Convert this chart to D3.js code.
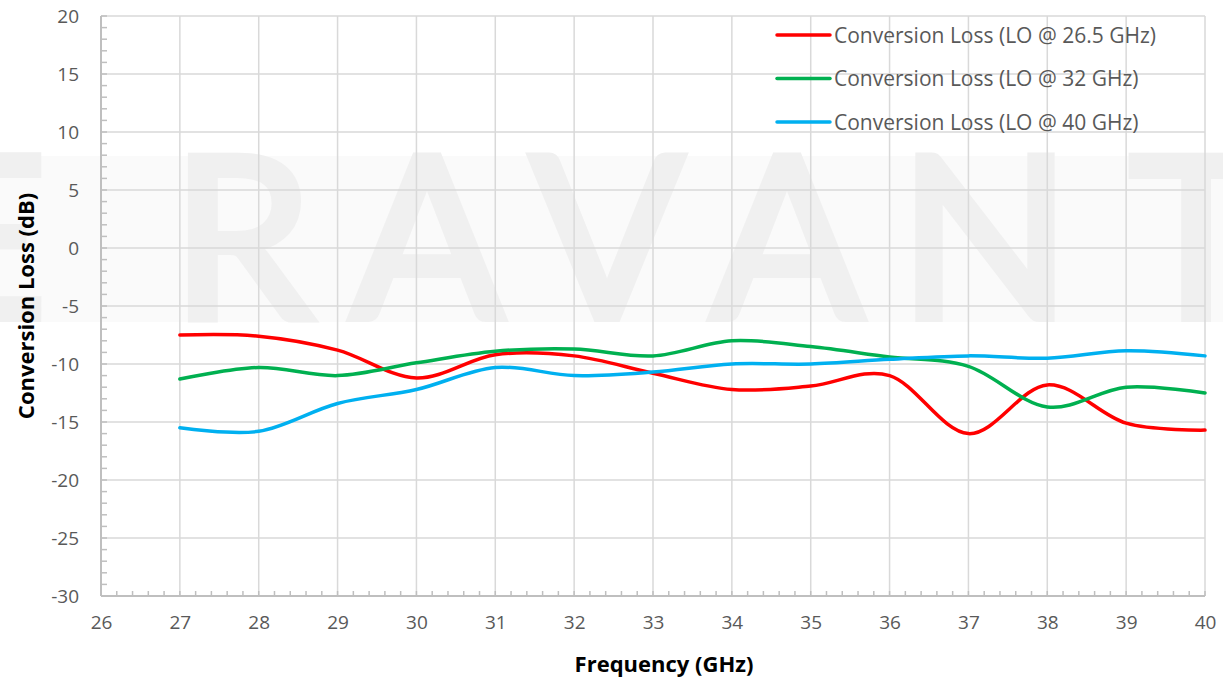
<!DOCTYPE html>
<html>
<head>
<meta charset="utf-8">
<script src="https://cdn.jsdelivr.net/npm/d3@7"></script>
<style>
  body { margin: 0; background: #fff; }
  svg { display: block; font-family: "Open Sans", sans-serif; }
</style>
</head>
<body>
<div id="canvas"></div>
<script>
// data
var freqs = [27, 28, 29, 30, 31, 32, 33, 34, 35, 36, 37, 38, 39, 40];
var lo265 = [-7.5, -7.6, -8.8, -11.2, -9.2, -9.3, -10.8, -12.2, -11.9, -11.0, -16.0, -11.8, -15.1, -15.7];
var lo32 = [-11.3, -10.3, -11.0, -9.9, -8.9, -8.7, -9.3, -8.0, -8.5, -9.4, -10.2, -13.7, -12.0, -12.5];
var lo40 = [-15.5, -15.8, -13.4, -12.2, -10.3, -11.0, -10.7, -10.0, -10.0, -9.6, -9.3, -9.5, -8.85, -9.3];
var seriesNames = ["Conversion Loss (LO @ 26.5 GHz)", "Conversion Loss (LO @ 32 GHz)", "Conversion Loss (LO @ 40 GHz)"];
var seriesColors = ["#ff0000", "#00b050", "#00b0f0"];
var xTicks = d3.range(26, 41, 1);
var yTicks = [-30, -25, -20, -15, -10, -5, 0, 5, 10, 15, 20];
var watermark = ["E", "R", "A", "V", "A", "N", "T"];

var W = 1223, H = 681;
var margin = {left: 101, right: 18, top: 16, bottom: 85};
var width = W - margin.left - margin.right;
var height = H - margin.top - margin.bottom;

var svg = d3.select("#canvas").append("svg")
  .attr("width", W)
  .attr("height", H);

// watermark band + letters
svg.append("rect")
  .attr("x", 0).attr("y", 156)
  .attr("width", W).attr("height", 166)
  .attr("fill", "#fafafa");
var wmX = [-18, 242, 427, 607, 787, 985, 1196];
svg.selectAll("text.wm").data(watermark).enter()
  .append("text")
  .attr("class", "wm")
  .attr("x", (d, i) => wmX[i])
  .attr("y", 318)
  .attr("text-anchor", "middle")
  .attr("font-family", "Lato, sans-serif")
  .attr("font-size", "226px")
  .attr("fill", "#f0f0f0")
  .attr("stroke", "#f0f0f0")
  .attr("stroke-width", 8)
  .attr("stroke-linejoin", "miter")
  .text((d) => d);

var g = svg.append("g")
  .attr("transform", "translate(" + margin.left + "," + margin.top + ")");

var x = d3.scaleLinear().domain([26, 40]).range([0, width]);
var y = d3.scaleLinear().domain([-30, 20]).range([height, 0]);

// gridlines
g.selectAll("line.vgrid").data(xTicks.slice(1)).enter()
  .append("line")
  .attr("x1", (d) => x(d)).attr("x2", (d) => x(d))
  .attr("y1", 0).attr("y2", height)
  .attr("stroke", "#d9d9d9").attr("stroke-width", 1.5);
g.selectAll("line.hgrid").data(yTicks.slice(1)).enter()
  .append("line")
  .attr("x1", 0).attr("x2", width)
  .attr("y1", (d) => y(d)).attr("y2", (d) => y(d))
  .attr("stroke", "#d9d9d9").attr("stroke-width", 1.5);

// minor ticks
g.selectAll("line.ymin").data(d3.range(-30, 21, 1)).enter()
  .append("line")
  .attr("x1", 0).attr("x2", 6)
  .attr("y1", (d) => y(d)).attr("y2", (d) => y(d))
  .attr("stroke", "#bfbfbf").attr("stroke-width", 1.5);
g.selectAll("line.xmin").data(d3.range(26, 40.01, 0.2)).enter()
  .append("line")
  .attr("x1", (d) => x(d)).attr("x2", (d) => x(d))
  .attr("y1", height).attr("y2", height - 5)
  .attr("stroke", "#bfbfbf").attr("stroke-width", 1.5);

// axis lines
g.append("line").attr("x1", 0).attr("x2", 0).attr("y1", 0).attr("y2", height)
  .attr("stroke", "#bfbfbf").attr("stroke-width", 2);
g.append("line").attr("x1", 0).attr("x2", width).attr("y1", height).attr("y2", height)
  .attr("stroke", "#bfbfbf").attr("stroke-width", 2);

var leftAxis = d3.axisLeft(y).tickValues(yTicks).tickSize(0).tickPadding(22)
  .tickFormat((d) => String(d));
var yAx = g.append("g").attr("class", "left axis").call(leftAxis);
yAx.select(".domain").remove();
yAx.selectAll("text").attr("font-size", "19px").attr("fill", "#595959")
  .attr("font-family", "Open Sans, sans-serif");

var bottomAxis = d3.axisBottom(x).tickValues(xTicks).tickSize(0).tickPadding(20)
  .tickFormat((d) => String(d));
var xAx = g.append("g").attr("class", "x axis")
  .attr("transform", "translate(0," + height + ")").call(bottomAxis);
xAx.select(".domain").remove();
xAx.selectAll("text").attr("font-size", "19px").attr("fill", "#595959")
  .attr("font-family", "Open Sans, sans-serif");

// lines
var series = [lo265, lo32, lo40];
var line = d3.line()
  .x((d, i) => x(freqs[i]))
  .y((d) => y(d))
  .curve(d3.curveCardinal.tension(0));
series.forEach((s, k) => {
  g.append("path")
    .datum(s)
    .attr("d", line)
    .attr("fill", "none")
    .attr("stroke", seriesColors[k])
    .attr("stroke-width", 3.5)
    .attr("stroke-linecap", "round");
});

// legend
var legend = g.append("g").attr("transform", "translate(676,19)");
seriesNames.forEach((n, k) => {
  var row = legend.append("g").attr("transform", "translate(0," + (k * 43.5) + ")");
  row.append("line").attr("x1", 0).attr("x2", 53).attr("y1", 0).attr("y2", 0)
    .attr("stroke", seriesColors[k]).attr("stroke-width", 3.5).attr("stroke-linecap", "round");
  row.append("text").attr("x", 57).attr("y", 7.5)
    .attr("font-size", "21px").attr("fill", "#595959")
    .text(n);
});

// axis titles
svg.append("text")
  .attr("x", 664).attr("y", 672)
  .attr("text-anchor", "middle")
  .attr("font-size", "22px").attr("font-weight", "bold")
  .attr("fill", "#000")
  .text("Frequency (GHz)");
svg.append("text")
  .attr("transform", "translate(34,306) rotate(-90)")
  .attr("text-anchor", "middle")
  .attr("font-size", "22px").attr("font-weight", "bold")
  .attr("fill", "#000")
  .text("Conversion Loss (dB)");
</script>
</body>
</html>
